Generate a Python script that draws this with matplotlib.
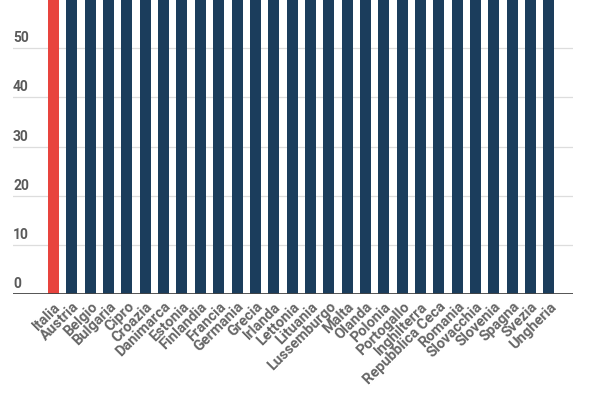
import matplotlib
matplotlib.use("Agg")
import matplotlib.pyplot as plt
from matplotlib.transforms import offset_copy

categories = ["Italia", "Austria", "Belgio", "Bulgaria", "Cipro", "Croazia", "Danimarca",
              "Estonia", "Finlandia", "Francia", "Germania", "Grecia", "Irlanda", "Lettonia",
              "Lituania", "Lussemburgo", "Malta", "Olanda", "Polonia", "Portogallo",
              "Inghilterra", "Repubblica Ceca", "Romania", "Slovacchia", "Slovenia",
              "Spagna", "Svezia", "Ungheria"]
# all bars extend beyond the visible top of the chart (> 60)
values = [100] * len(categories)
yticks = [0, 10, 20, 30, 40, 50]

plt.rcParams['font.family'] = ['Roboto', 'DejaVu Sans']

fig = plt.figure(figsize=(6, 4), dpi=100)
ax = fig.add_axes([13/600, (400-294)/400, 560/600, 294/400])

n = len(categories)
x = list(range(n))
colors = ["#e8443e"] + ["#1b3d5c"] * (n - 1)
ax.bar(x, values, width=0.6, color=colors, zorder=2)

ax.set_ylim(0, 59.8)
ax.set_xlim(-2.21, n - 1 + 1.31)

for s in ["top", "right", "left", "bottom"]:
    ax.spines[s].set_visible(False)

for t in yticks:
    if t == 0:
        ax.axhline(0, color="#444444", lw=2, zorder=3)
    else:
        ax.axhline(t, color="#dddddd", lw=0.9, zorder=1)
    tr = offset_copy(ax.get_yaxis_transform(), fig=fig, x=0, y=3, units="dots")
    ax.text(0, t, str(t), transform=tr, ha="left", va="bottom",
            fontsize=10, color="#5a5a5a", fontweight="bold")

ax.set_yticks([])
ax.set_xticks(x)
ax.set_xticklabels(categories, rotation=45, ha="right", rotation_mode="anchor",
                   fontsize=10.5, color="#666666", fontweight="bold")
ax.tick_params(axis="x", length=0, pad=4)

fig.savefig("out.png", dpi=100)
